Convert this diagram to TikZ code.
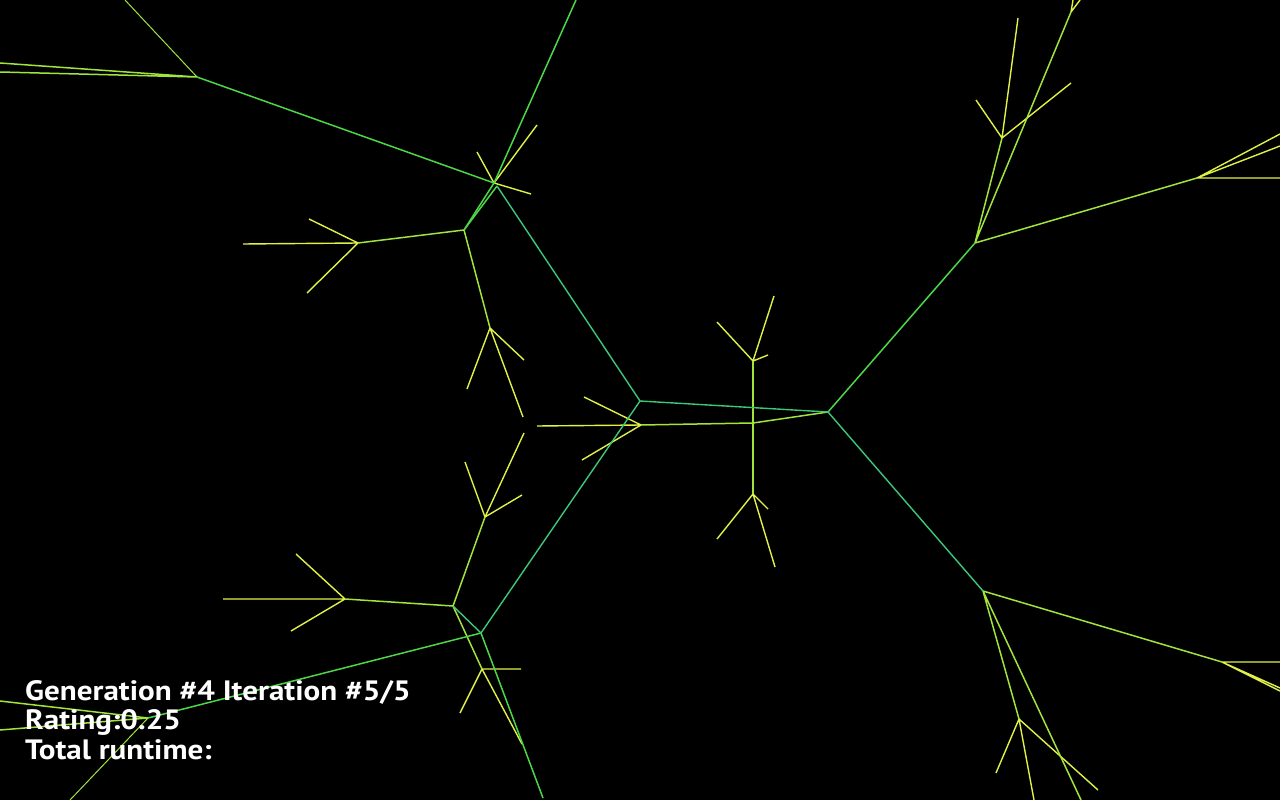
\documentclass[tikz,border=0pt]{standalone}
\usepackage{fontspec}
\setmainfont{PT Sans}
\definecolor{teal1}{RGB}{60,200,120}
\definecolor{grn}{RGB}{75,215,70}
\definecolor{lime}{RGB}{160,228,60}
\definecolor{yel}{RGB}{225,242,70}
\tikzset{
  tealline/.style={draw=teal1,line width=1.4pt},
  grnline/.style={draw=grn,line width=1.5pt},
  limeline/.style={draw=lime,line width=1.5pt},
  yelline/.style={draw=yel,line width=1.4pt},
  hud/.style={text=white,font=\fontsize{28}{30}\selectfont\bfseries,anchor=base west,inner sep=0pt}
}
\newcommand{\hudtext}[1]{\scalebox{1.11}[1]{#1}}
\begin{document}
\begin{tikzpicture}[x=1pt,y=-1pt]
\fill[black] (0,0) rectangle (1280,800);
\useasboundingbox (0,0) rectangle (1280,800);
\clip (0,0) rectangle (1280,800);
% centre
\coordinate (C) at (828,412);
\coordinate (L1) at (640,401);
\coordinate (L2) at (641,425);
\coordinate (M) at (753,423);
\coordinate (T) at (753,361);
\coordinate (B) at (753,494);
\coordinate (t1) at (717,322);
\coordinate (t2) at (774,296);
\coordinate (t3) at (768,355);
\coordinate (b1) at (717,539);
\coordinate (b2) at (775,567);
\coordinate (b3) at (768,509);
\coordinate (l21) at (537,426);
\coordinate (l22) at (584,397);
\coordinate (l23) at (582,460);
% upper left
\coordinate (A) at (197,77);
\coordinate (a1) at (125,0);
\coordinate (a2) at (0,63);
\coordinate (a3) at (0,72);
\coordinate (D) at (494,183);
\coordinate (D2) at (497,186);
\coordinate (top) at (576,0);
\coordinate (E) at (464,230);
\coordinate (d1) at (477,152);
\coordinate (d2) at (537,125);
\coordinate (d3) at (531,194);
\coordinate (G) at (358,243);
\coordinate (g1) at (243,244);
\coordinate (g2) at (309,219);
\coordinate (g3) at (307,293);
\coordinate (H) at (490,328);
\coordinate (h1) at (467,389);
\coordinate (h2) at (524,360);
\coordinate (h3) at (523,417);
% lower left
\coordinate (J) at (453,606);
\coordinate (K) at (481,633);
\coordinate (N) at (485,517);
\coordinate (n1) at (465,462);
\coordinate (n2) at (524,433);
\coordinate (n3) at (522,495);
\coordinate (P) at (345,599);
\coordinate (p1) at (223,599);
\coordinate (p2) at (296,554);
\coordinate (p3) at (291,631);
\coordinate (R) at (482,669);
\coordinate (S) at (522,744);
\coordinate (r1) at (521,669);
\coordinate (r2) at (460,713);
\coordinate (k1) at (543,798);
\coordinate (Q) at (148,718);
\coordinate (q1) at (0,701);
\coordinate (q2) at (0,730);
\coordinate (q3) at (70,800);
% upper right
\coordinate (U) at (975,243);
\coordinate (V) at (1197,178);
\coordinate (v1) at (1280,178);
\coordinate (v2) at (1280,134);
\coordinate (v3) at (1280,146);
\coordinate (W) at (1002,138);
\coordinate (w1) at (1018,18);
\coordinate (w2) at (976,100);
\coordinate (w3) at (1071,83);
\coordinate (X) at (1071,12);
\coordinate (x1) at (1080,0);
\coordinate (x2) at (1073,0);
% lower right
\coordinate (Y) at (983,591);
\coordinate (Z) at (1222,662);
\coordinate (z1) at (1280,662);
\coordinate (z2) at (1280,688);
\coordinate (z3) at (1280,691);
\coordinate (AA) at (1019,719);
\coordinate (aa1) at (996,773);
\coordinate (aa2) at (1034,800);
\coordinate (aa3) at (1098,790);
\coordinate (y1) at (1081,800);

% yellow tips
\draw[yelline] (T)--(t1) (T)--(t2) (T)--(t3);
\draw[yelline] (B)--(b1) (B)--(b2) (B)--(b3);
\draw[yelline] (L2)--(l21) (L2)--(l22) (L2)--(l23);
\draw[yelline] (D)--(d1) (D)--(d2) (D)--(d3);
\draw[yelline] (G)--(g1) (G)--(g2) (G)--(g3);
\draw[yelline] (H)--(h1) (H)--(h2) (H)--(h3);
\draw[yelline] (N)--(n1) (N)--(n2) (N)--(n3);
\draw[yelline] (P)--(p1) (P)--(p2) (P)--(p3);
\draw[yelline] (R)--(r1) (R)--(r2) (R)--(S);
\draw[yelline] (V)--(v1) (V)--(v2) (V)--(v3);
\draw[yelline] (W)--(w1) (W)--(w2) (W)--(w3);
\draw[yelline] (X)--(x1) (X)--(x2);
\draw[yelline] (Z)--(z1) (Z)--(z2) (Z)--(z3);
\draw[yelline] (AA)--(aa1) (AA)--(aa2) (AA)--(aa3);
% lime limbs
\draw[limeline] (M)--(T) (M)--(B);
\draw[limeline] (L2)--(M)--(C);
\draw[limeline] (A)--(a2) (A)--(a3);
\draw[limeline,line width=1pt] (A)--(a1);
\draw[limeline] (E)--(G) (E)--(H);
\draw[limeline] (J)--(N) (J)--(P) (J)--(R);
\draw[limeline] (Q)--(q1) (Q)--(q2);
\draw[limeline,line width=1pt] (Q)--(q3);
\draw[limeline] (U)--(V) (U)--(W) (U)--(X);
\draw[limeline] (Y)--(Z) (Y)--(AA) (Y)--(y1);
% green
\draw[grnline] (A)--(D);
\draw[grnline] (top)--(D)--(E);
\draw[grnline] (D2)--(E);
\draw[grnline] (K)--(k1) (K)--(Q);
\draw[grnline] (C)--(U);
% teal
\draw[tealline] (D2)--(L1);
\draw[tealline] (K)--(L1);
\draw[tealline] (J)--(K);
\draw[tealline] (L1)--(C);
\draw[tealline] (C)--(Y);

\node[hud] (t1txt) at (25,700) {\hudtext{Generation \#4 Iteration \#5/5}};
\node[hud] (t2txt) at (25,729) {\hudtext{Rating:0.25}};
\node[hud] (t3txt) at (25,759) {\hudtext{Total runtime:}};
\end{tikzpicture}
\end{document}
